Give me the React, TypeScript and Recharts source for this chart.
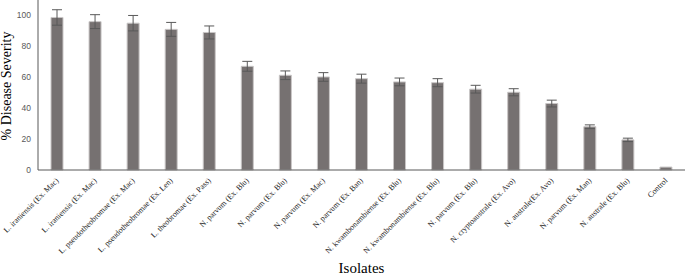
import { BarChart, Bar, XAxis, YAxis, ErrorBar, Label } from 'recharts';

const isolates = [
    'L. iraniensis (Ex. Mac)',
    'L. iraniensis (Ex. Mac)',
    'L. pseudotheobromae (Ex. Mac)',
    'L. pseudotheobromae (Ex. Len)',
    'L. theobromae (Ex. Pass)',
    'N. parvum (Ex. Blu)',
    'N. parvum (Ex. Blu)',
    'N. parvum (Ex. Mac)',
    'N. parvum (Ex. Ban)',
    'N. kwambonambiense (Ex. Blu)',
    'N. kwambonambiense (Ex. Blu)',
    'N. parvum (Ex. Blu)',
    'N. cryptoaustrale (Ex. Avo)',
    'N. australe(Ex. Avo)',
    'N. parvum (Ex. Man)',
    'N. australe (Ex. Blu)',
    'Control',
];

const severity = [98.7, 96, 95, 91, 89, 67.1, 61.3, 60.2, 59.1, 57, 56.5, 52.3, 50.3, 43, 28, 19.5, 1.9];
const severityErr = [5, 4.5, 5, 4.5, 4.2, 3.2, 2.8, 2.8, 2.9, 2.5, 2.6, 2.5, 2.3, 2.2, 1.2, 1.1, 0];

const yTicks = [0, 20, 40, 60, 80, 100];

const data = isolates.map((name, i) => ({ name, severity: severity[i], err: severityErr[i] }));

const SERIF = '"Liberation Serif", "Times New Roman", serif';

// rotated category label, text ends just under the tick
const IsolateTick = (props: any) => {
    const { x, y, payload } = props;
    return (
        <g transform={`translate(${x + 2},${y + 11})`}>
            <text x={0} y={0} textAnchor="end" transform="rotate(-45)" fontSize={8} fontFamily={SERIF} fill="#262626">
                {payload.value}
            </text>
        </g>
    );
};

export default function App() {
    return (
        <div style={{ position: 'absolute', left: 0, top: 0, background: '#fff' }}>
            <BarChart width={685} height={275} data={data} margin={{ top: 0, right: 0, bottom: 0, left: 0 }} barSize={12}>
                <XAxis
                    dataKey="name"
                    interval={0}
                    height={105}
                    tick={<IsolateTick />}
                    tickLine={false}
                    tickSize={0}
                    tickMargin={0}
                    stroke="#595959"
                >
                    <Label
                        content={(p: any) => {
                            const vb = p.viewBox;
                            return (
                                <text x={vb.x + vb.width / 2} y={vb.y + vb.height - 2} textAnchor="middle" fontSize={15} fontFamily={SERIF} fill="#000">
                                    Isolates
                                </text>
                            );
                        }}
                    />
                </XAxis>
                <YAxis
                    width={38}
                    domain={[0, 110]}
                    ticks={yTicks}
                    tickLine={false}
                    tickSize={0}
                    tickMargin={7}
                    stroke="#595959"
                    tick={{ fill: '#595959', fontSize: 8.5, fontFamily: '"Liberation Sans", Arial, sans-serif' }}
                >
                    <Label
                        content={(p: any) => {
                            const vb = p.viewBox;
                            const cy = vb.y + vb.height / 2 + 1;
                            return (
                                <text x={11} y={cy} transform={`rotate(-90 11 ${cy})`} textAnchor="middle" fontSize={14} fontFamily={SERIF} fill="#000">
                                    % Disease Severity
                                </text>
                            );
                        }}
                    />
                </YAxis>
                <Bar dataKey="severity" fill="#767171" stroke="#c9c6c6" strokeWidth={1} isAnimationActive={false}>
                    <ErrorBar dataKey="err" width={5} stroke="#595959" strokeWidth={1} isAnimationActive={false} />
                </Bar>
            </BarChart>
        </div>
    );
}
